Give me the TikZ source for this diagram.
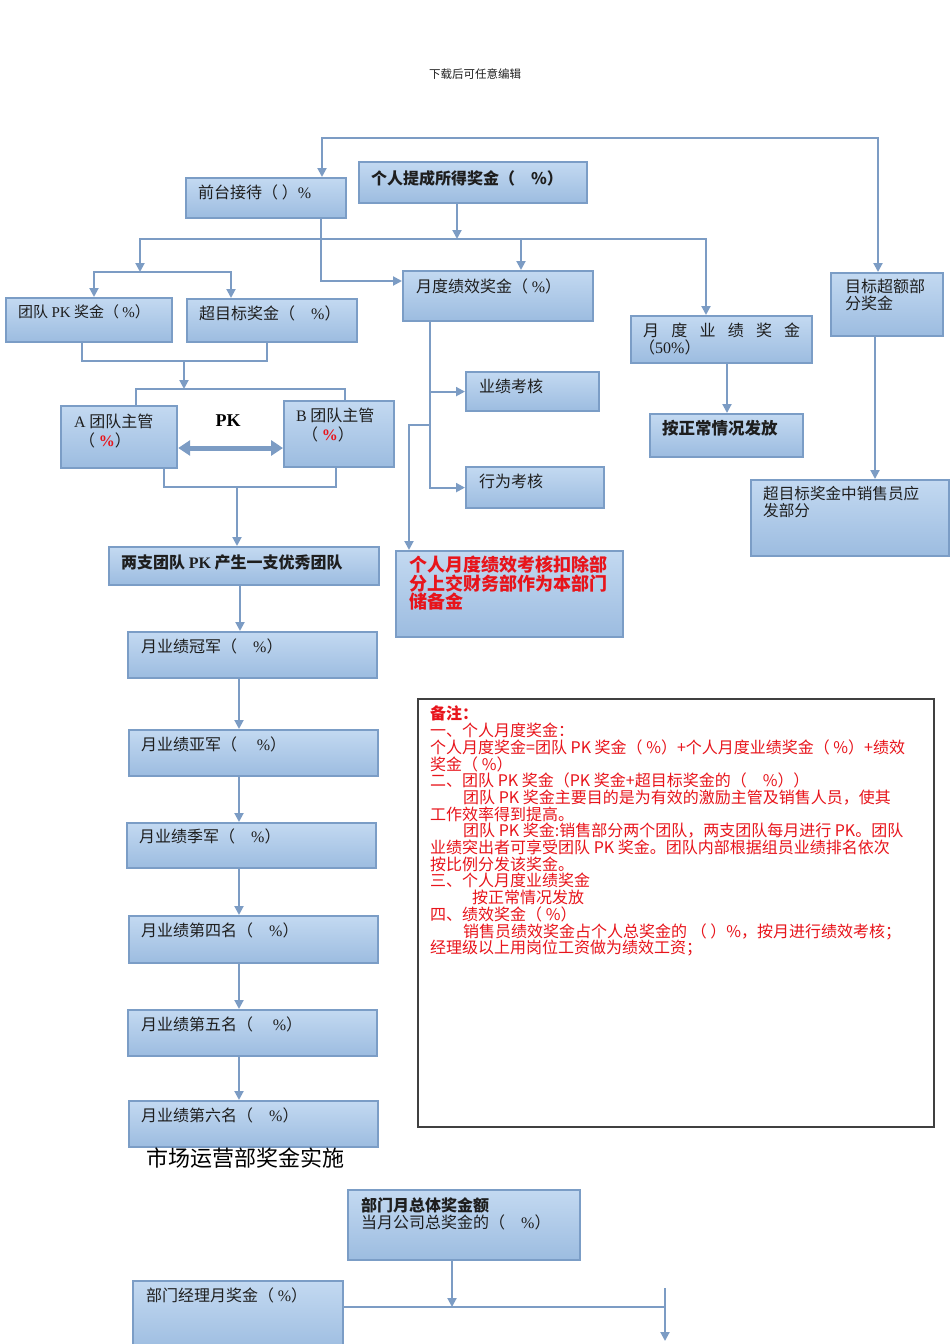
\documentclass[tikz,border=0pt]{standalone}
\usepackage{fontspec}
\setmainfont{Liberation Serif}
\newfontfamily\cjk{Noto Sans CJK SC}
\usetikzlibrary{arrows.meta,calc}
\definecolor{boxtop}{HTML}{C3D9F1}
\definecolor{boxbot}{HTML}{9CBCE0}
\definecolor{bordc}{HTML}{7B9DC6}
\definecolor{linec}{HTML}{7C9CC4}
\definecolor{txtc}{HTML}{1E1E1E}
\definecolor{redc}{HTML}{E8141B}
\newcommand\mkbox[5]{\node[bbox, minimum width={(#4-#2)*1pt}, minimum height={(#5-#3)*1pt}] (#1) at (#2,#3) {};}
\newcommand\latn[1]{{\rmfamily #1}}
\begin{document}
\begin{tikzpicture}[x=1pt,y=-1pt,
 bbox/.style={draw=bordc, line width=2.2pt, top color=boxtop, bottom color=boxbot, inner sep=0pt, anchor=north west},
 tx/.style={anchor=north west, inner sep=0pt, text=txtc, font=\cjk\fontsize{16}{17}\selectfont, align=left},
 ln/.style={draw=linec, line width=2pt},
 arr/.style={ln, -{Triangle[length=9pt,width=9pt]}},
 dbl/.style={draw=linec, line width=5pt, {Triangle[length=12pt,width=15pt]}-{Triangle[length=12pt,width=15pt]}},
]
\useasboundingbox (0,0) rectangle (950,1344);

\node[anchor=center, inner sep=0pt, text=txtc, font=\cjk\fontsize{11.5}{12}\selectfont] (hdr) at (475,74) {下载后可任意编辑};

% boxes
\mkbox{qt}{185}{177}{345}{217}
\mkbox{gr}{358}{161}{586}{202}
\mkbox{tpk}{5}{297}{171}{341}
\mkbox{cmb}{186}{298}{356}{341}
\mkbox{ydjx}{402}{270}{592}{320}
\mkbox{ydyj}{630}{315}{811}{362}
\mkbox{mbce}{830}{272}{942}{335}
\mkbox{A}{60}{405}{176}{467}
\mkbox{B}{283}{400}{393}{466}
\mkbox{yjkh}{465}{371}{598}{410}
\mkbox{xwkh}{465}{466}{603}{507}
\mkbox{red}{395}{550}{622}{636}
\mkbox{zcff}{649}{413}{802}{456}
\mkbox{cmbx}{750}{479}{948}{555}
\mkbox{ltd}{108}{546}{378}{584}
\mkbox{r1}{127}{631}{376}{677}
\mkbox{r2}{128}{729}{377}{775}
\mkbox{r3}{126}{822}{375}{867}
\mkbox{r4}{128}{915}{377}{962}
\mkbox{r5}{127}{1009}{376}{1055}
\mkbox{r6}{128}{1100}{377}{1146}
\mkbox{bmz}{347}{1189}{579}{1259}
\mkbox{bmjl}{132}{1280}{342}{1352}
\node[draw=black!75, line width=1.5pt, fill=white, anchor=north west, inner sep=0pt, minimum width=516pt, minimum height=428pt] (notes) at (417,698) {};

% texts
\node[tx] (qt-t) at (198,185) {前台接待（ ）\latn{\%}};
\node[tx, font=\cjk\bfseries\fontsize{16}{17}\selectfont] (gr-t) at (371,170) {个人提成所得奖金（　\%）};
\node[tx, font=\cjk\fontsize{15}{16}\selectfont] (tpk-t) at (18,304) {团队 \latn{PK} 奖金（ \latn{\%}）};
\node[tx] (cmb-t) at (199,306) {超目标奖金（　\latn{\%}）};
\node[tx] (ydjx-t) at (416,279) {月度绩效奖金（ \latn{\%}）};
\node[tx] (ydyj-t) at (643,323) {\makebox[157pt][l]{月\hfill 度\hfill 业\hfill 绩\hfill 奖\hfill 金}\\[-0pt]\hspace*{-4pt}（\latn{50\%}）};
\node[tx] (mbce-t) at (845,279) {目标超额部\\分奖金};
\node[tx, font=\cjk\fontsize{16}{19}\selectfont] (A-t) at (74,414) {\latn{A} 团队主管\\\hspace*{5pt}（ {\color{redc}\bfseries\latn{\%}}）};
\node[tx, font=\cjk\fontsize{16}{19}\selectfont] (B-t) at (296,408) {\latn{B} 团队主管\\\hspace*{6pt}（ {\color{redc}\bfseries\latn{\%}}）};
\node[anchor=center, inner sep=0pt, text=black, font=\rmfamily\bfseries\fontsize{18}{18}\selectfont] (pk) at (228,421) {PK};
\node[tx] (yjkh-t) at (479,379) {业绩考核};
\node[tx] (xwkh-t) at (479,474) {行为考核};
\node[tx, text=redc, font=\cjk\bfseries\fontsize{18}{17}\selectfont] (red-t) at (409,556) {个人月度绩效考核扣除部\\分上交财务部作为本部门\\储备金};
\node[tx, font=\cjk\bfseries\fontsize{16.5}{17}\selectfont] (zcff-t) at (662,420) {按正常情况发放};
\node[tx, font=\cjk\fontsize{15.6}{17}\selectfont] (cmbx-t) at (763,486) {超目标奖金中销售员应\\发部分};
\node[tx, font=\cjk\bfseries\fontsize{16}{17}\selectfont] (ltd-t) at (121,555) {两支团队 \latn{PK} 产生一支优秀团队};
\node[tx] (r1-t) at (141,639) {月业绩冠军（　\latn{\%}）};
\node[tx] (r2-t) at (141,737) {月业绩亚军（　 \latn{\%}）};
\node[tx] (r3-t) at (139,829) {月业绩季军（　\latn{\%}）};
\node[tx] (r4-t) at (141,923) {月业绩第四名（　\latn{\%}）};
\node[tx] (r5-t) at (141,1017) {月业绩第五名（　 \latn{\%}）};
\node[tx] (r6-t) at (141,1108) {月业绩第六名（　\latn{\%}）};
\node[anchor=center, inner sep=0pt, text=black, font=\cjk\fontsize{22}{22}\selectfont] (mkt) at (245,1158) {市场运营部奖金实施};
\node[tx] (bmz-t) at (361,1197) {\textbf{部门月总体奖金额}\\当月公司总奖金的（　\latn{\%}）};
\node[tx] (bmjl-t) at (146,1288) {部门经理月奖金（ \latn{\%}）};
\node[tx, text=redc, font=\cjk\fontsize{16}{16.7}\selectfont] (notes-t) at (430,706) {\textbf{备注：}\\
一、个人月度奖金：\\
个人月度奖金=团队 PK 奖金（ \%）+个人月度业绩奖金（ \%）+绩效\\
奖金（ \%）\\
二、团队 PK 奖金（PK 奖金+超目标奖金的（　\%））\\
\hspace*{33pt}团队 PK 奖金主要目的是为有效的激励主管及销售人员，使其\\
工作效率得到提高。\\
\hspace*{33pt}团队 PK 奖金:销售部分两个团队，两支团队每月进行 PK。团队\\
业绩突出者可享受团队 PK 奖金。团队内部根据组员业绩排名依次\\
按比例分发该奖金。\\
三、个人月度业绩奖金\\
\hspace*{42pt}按正常情况发放\\
四、绩效奖金（ \%）\\
\hspace*{33pt}销售员绩效奖金占个人总奖金的 （ ）\%，按月进行绩效考核；\\
经理级以上用岗位工资做为绩效工资；};

% connectors
\coordinate (t1) at (322,138); \coordinate (t2) at (878,138);
\draw[arr] (t2) -- (t1) -- (t1 |- qt.north);
\draw[arr] (t1) -- (t2) -- (t2 |- mbce.north);
\coordinate (hL) at (140,239); \coordinate (hR) at (706,239);
\coordinate (h1) at (457,239); \coordinate (h2) at (521,239);
\coordinate (tL) at (94,272); \coordinate (tR) at (231,272);
\draw[arr] (h1 |- gr.south) -- (h1);
\draw[arr] (hR) -- (hL) -- (hL |- tL);
\draw[arr] (hL) -- (hR) -- (hR |- ydyj.north);
\draw[arr] (h2) -- (h2 |- ydjx.north);
\coordinate (q1) at (321,281);
\draw[arr] (q1 |- qt.south) -- (q1) -- (q1 -| ydjx.west);
\draw[arr] (tR) -- (tL) -- (tL |- tpk.north);
\draw[arr] (tL) -- (tR) -- (tR |- cmb.north);
\coordinate (b1) at (82,361); \coordinate (b2) at (267,361); \coordinate (b3) at (184,361);
\draw[ln] (b1 |- tpk.south) -- (b1) -- (b2) -- (b2 |- cmb.south);
\coordinate (cL) at (136,389); \coordinate (cR) at (345,389); \coordinate (c3) at (184,389);
\draw[arr] (b3) -- (c3);
\draw[ln] (cL |- A.north) -- (cL) -- (cR) -- (cR |- B.north);
\coordinate (pky) at (0,448);
\draw[dbl] (A.east |- pky) -- (B.west |- pky);
\coordinate (d1) at (164,487); \coordinate (d2) at (336,487); \coordinate (d3) at (237,487);
\draw[ln] (d1 |- A.south) -- (d1) -- (d2) -- (d2 |- B.south);
\draw[arr] (d3) -- (d3 |- ltd.north);
\coordinate (e1) at (240,0); \coordinate (e2) at (239,0);
\draw[arr] (e1 |- ltd.south) -- (e1 |- r1.north);
\draw[arr] (e2 |- r1.south) -- (e2 |- r2.north);
\draw[arr] (e2 |- r2.south) -- (e2 |- r3.north);
\draw[arr] (e2 |- r3.south) -- (e2 |- r4.north);
\draw[arr] (e2 |- r4.south) -- (e2 |- r5.north);
\draw[arr] (e2 |- r5.south) -- (e2 |- r6.north);
\coordinate (f) at (430,0);
\draw[arr] (f |- ydjx.south) -- (f |- yjkh.west) -- (yjkh.west);
\draw[arr] (f |- yjkh.west) -- (f |- xwkh.west) -- (xwkh.west);
\coordinate (g1) at (430,425); \coordinate (g2) at (409,425);
\draw[arr] (g1) -- (g2) -- (g2 |- red.north);
\coordinate (k) at (727,0);
\draw[arr] (k |- ydyj.south) -- (k |- zcff.north);
\coordinate (m) at (875,0);
\draw[arr] (m |- mbce.south) -- (m |- cmbx.north);
\coordinate (n1) at (452,1307); \coordinate (n2) at (665,1307);
\coordinate (n3) at (665,1288); \coordinate (n4) at (665,1341);
\draw[arr] (n1 |- bmz.south) -- (n1);
\draw[ln] (bmjl.east |- n1) -- (n2);
\draw[arr] (n3) -- (n4);
\end{tikzpicture}
\end{document}
